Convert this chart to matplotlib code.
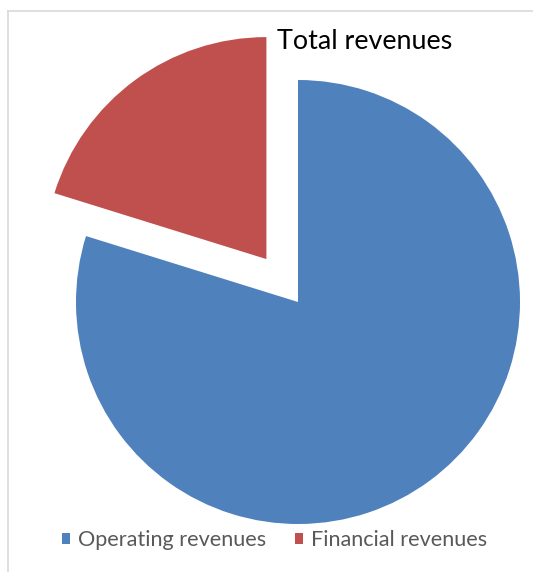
import matplotlib
matplotlib.use("Agg")
import matplotlib.pyplot as plt
from matplotlib.lines import Line2D

labels = ["Operating revenues", "Financial revenues"]
values = [79.8, 20.2]
colors = ["#4f81bd", "#c0504d"]
explode = [0, 0.24]
title = "Total revenues"

plt.rcParams['font.family'] = ['Lato', 'DejaVu Sans']

W, H = 533, 572
fig = plt.figure(figsize=(W / 100, H / 100), dpi=100)
ax = fig.add_axes([0, 0, 1, 1])
R = 222.0
cx, cy = 298.0, 302.0
wedges, _ = ax.pie(values, colors=colors, explode=explode, startangle=90,
                   counterclock=False, radius=1.0)
ax.set_xlim(-cx / R, (W - cx) / R)
ax.set_ylim(-(H - cy) / R, cy / R)
ax.set_aspect('auto')
ax.axis('off')

# chart area border
bx, by = 8 / W, 1 - 11 / H
fig.add_artist(Line2D([bx, bx], [0, by], color="#d9d9d9", lw=1.2, transform=fig.transFigure))
fig.add_artist(Line2D([bx, 1], [by, by], color="#d9d9d9", lw=1.2, transform=fig.transFigure))

fig.text(277 / W, 1 - 49 / H, title, ha='left', va='baseline', fontsize=19.4, color="#000000")

leg = fig.legend(wedges, labels, loc='center', bbox_to_anchor=(274.5 / W, 1 - 540.5 / H),
                 ncol=2, frameon=False, fontsize=15.6, handlelength=0.37, handleheight=0.37,
                 handletextpad=0.4, columnspacing=1.3, labelcolor="#595959",
                 borderpad=0, borderaxespad=0)

fig.savefig("out.png", dpi=100)
